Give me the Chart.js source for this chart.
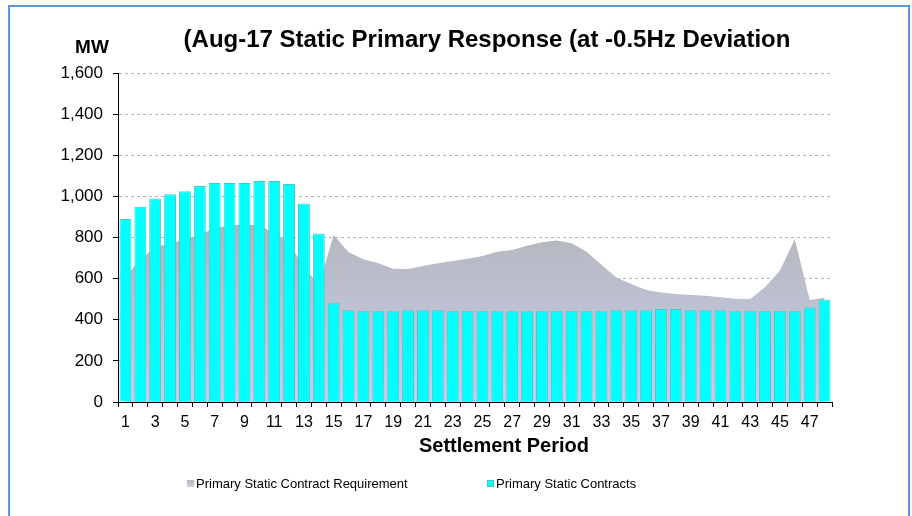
<!DOCTYPE html>
<html>
<head>
<meta charset="utf-8">
<script src="https://cdn.jsdelivr.net/npm/chart.js@4.4.0/dist/chart.umd.min.js"></script>
<style>
  html, body { margin: 0; padding: 0; background: #ffffff; }
  #wrap { position: relative; width: 912px; height: 516px; overflow: hidden; }
  #frame { position: absolute; left: 8px; top: 5px; width: 902px; height: 530px; border: 2px solid #5a9ad8; box-sizing: border-box; pointer-events: none; }
  canvas { position: absolute; left: 0; top: 0; }
</style>
</head>
<body>
<div id="wrap">
  <canvas id="c" width="912" height="516"></canvas>
  <div id="frame"></div>
</div>
<script>
const TITLE = "(Aug-17 Static Primary Response (at -0.5Hz Deviation";
const Y_TITLE = "MW";
const X_TITLE = "Settlement Period";
const SERIES_REQ_NAME = "Primary Static Contract Requirement";
const SERIES_CON_NAME = "Primary Static Contracts";

const periods = ["1","2","3","4","5","6","7","8","9","10","11","12","13","14","15","16","17","18","19","20","21","22","23","24",
                 "25","26","27","28","29","30","31","32","33","34","35","36","37","38","39","40","41","42","43","44","45","46","47","48"];

const contracts = [890,950,990,1010,1025,1050,1065,1065,1065,1075,1075,1060,965,820,480,446,441,441,441,446,446,446,441,441,
                   441,441,441,441,441,441,441,441,441,446,446,446,452,452,446,446,446,441,441,441,441,441,459,498];

const requirement = [610,690,755,770,790,815,845,858,865,858,822,775,655,570,812,728,694,675,648,647,661,675,686,697,
                     710,731,739,760,777,786,772,731,668,606,574,545,532,525,520,517,509,502,501,558,639,791,496,507];

const yTicks = [0,200,400,600,800,1000,1200,1400,1600];

const FONT = "'Liberation Sans', Arial, sans-serif";

function areaGradient(context) {
  const chart = context.chart;
  const area = chart.chartArea;
  if (!area) return '#bcc0cc';
  const ys = chart.scales.y;
  const top = ys.getPixelForValue(Math.max.apply(null, requirement));
  const g = chart.ctx.createLinearGradient(0, top, 0, area.bottom);
  g.addColorStop(0, '#b5b6bd');
  g.addColorStop(1, '#c6cee9');
  return g;
}

const textPlugin = {
  id: 'texts',
  afterDraw(chart) {
    const c = chart.ctx;
    c.save();
    c.fillStyle = '#000';
    c.textBaseline = 'middle';
    c.textAlign = 'center';
    c.font = "bold 24px " + FONT;
    c.fillText(TITLE, 487, 40);
    c.font = "bold 19px " + FONT;
    c.fillText(Y_TITLE, 92, 48);
    c.font = "bold 20px " + FONT;
    c.fillText(X_TITLE, 504, 446);
    // legend
    c.textAlign = 'left';
    c.font = "13px " + FONT;
    const ly = 484;
    const g = c.createLinearGradient(0, ly - 4, 0, ly + 4);
    g.addColorStop(0, '#b3b4bb');
    g.addColorStop(1, '#d0d6ee');
    c.fillStyle = g;
    c.fillRect(187, ly - 4, 7, 7);
    c.fillStyle = '#000';
    c.fillText(SERIES_REQ_NAME, 196, ly);
    c.fillStyle = '#00ffff';
    c.fillRect(487, ly - 4, 7, 7);
    c.strokeStyle = '#40c4c4';
    c.lineWidth = 1;
    c.strokeRect(487.5, ly - 3.5, 6, 6);
    c.fillStyle = '#000';
    c.fillText(SERIES_CON_NAME, 496, ly);
    c.restore();
  }
};

new Chart(document.getElementById('c'), {
  type: 'bar',
  data: {
    labels: periods,
    datasets: [
      {
        type: 'line',
        label: SERIES_REQ_NAME,
        data: requirement,
        fill: 'origin',
        backgroundColor: areaGradient,
        borderWidth: 0,
        borderColor: 'rgba(0,0,0,0)',
        pointRadius: 0,
        tension: 0,
        order: 2
      },
      {
        type: 'bar',
        label: SERIES_CON_NAME,
        data: contracts,
        backgroundColor: '#00ffff',
        borderColor: '#4cc8c8',
        borderWidth: 1,
        categoryPercentage: 1.0,
        barPercentage: 0.8,
        order: 1
      }
    ]
  },
  options: {
    responsive: false,
    animation: false,
    devicePixelRatio: 1,
    layout: { padding: { left: 8, right: 80, top: 73, bottom: 84 } },
    plugins: {
      legend: { display: false },
      title: { display: false },
      tooltip: { enabled: false }
    },
    scales: {
      x: {
        offset: true,
        grid: { display: true, drawOnChartArea: false, drawTicks: true, tickLength: 5, tickColor: '#000', offset: true },
        border: { display: true, color: '#000', width: 1 },
        ticks: {
          autoSkip: false, maxRotation: 0, minRotation: 0, padding: 6,
          color: '#000', font: { family: FONT, size: 16 },
          callback: function(v, i) { return i % 2 === 0 ? periods[i] : ''; }
        },
        afterFit: function(s) { s.height = 30; }
      },
      y: {
        min: 0, max: 1600,
        afterBuildTicks: function(s) { s.ticks = yTicks.map(v => ({ value: v })); },
        grid: {
          color: function(ctx) { return ctx.tick && ctx.tick.value === 0 ? 'rgba(0,0,0,0)' : '#b4b4b4'; },
          lineWidth: 1, drawTicks: true, tickLength: 5, tickColor: '#000'
        },
        border: { display: true, color: '#000', width: 1, dash: [3, 3] },
        ticks: {
          padding: 10, color: '#000', font: { family: FONT, size: 17 },
          callback: function(v) { return Number(v).toLocaleString('en-US'); }
        },
        afterFit: function(s) { s.width = 110; }
      }
    }
  },
  plugins: [textPlugin]
});
</script>
</body>
</html>
